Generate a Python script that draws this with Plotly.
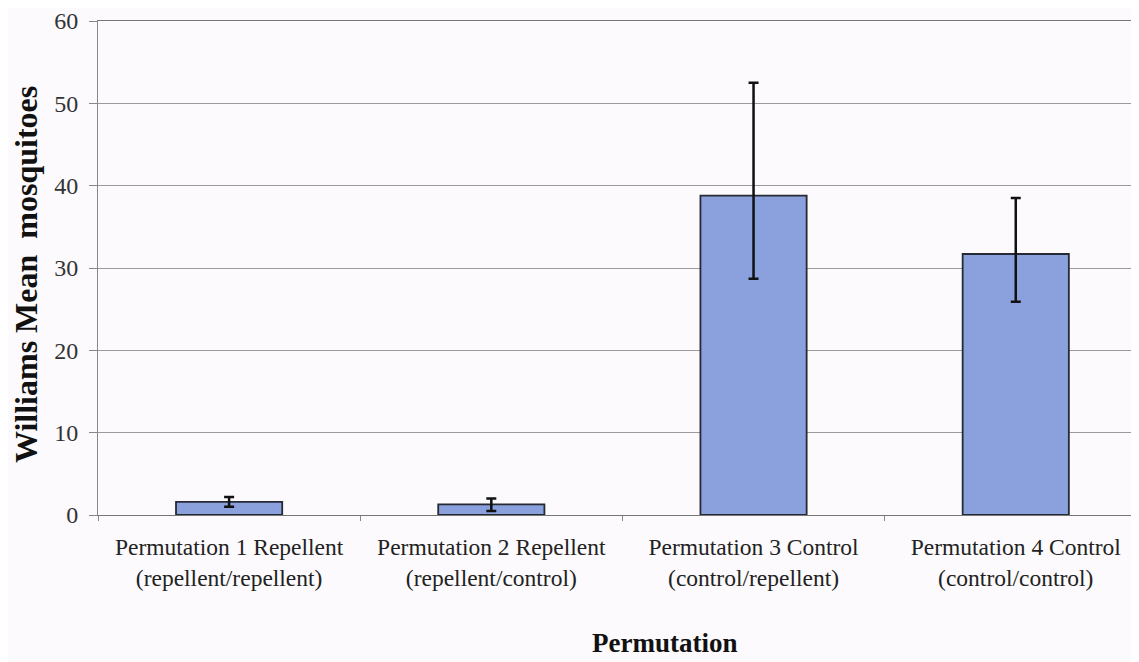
import plotly.graph_objects as go

categories = [
    "Permutation 1 Repellent<br>(repellent/repellent)",
    "Permutation 2 Repellent<br>(repellent/control)",
    "Permutation 3 Control<br>(control/repellent)",
    "Permutation 4 Control<br>(control/control)",
]
means = [1.6, 1.3, 38.8, 31.7]
err_plus = [0.6, 0.7, 13.7, 6.8]
err_minus = [0.6, 0.8, 10.1, 5.8]
y_ticks = [0, 10, 20, 30, 40, 50, 60]

serif = "Liberation Serif, Times New Roman, serif"

fig = go.Figure(
    go.Bar(
        x=categories,
        y=means,
        width=0.405,
        marker=dict(color="#8aa1dd", line=dict(color="#262a33", width=1.8)),
        error_y=dict(
            type="data",
            symmetric=False,
            array=err_plus,
            arrayminus=err_minus,
            color="#111111",
            thickness=2.5,
            width=5,
        ),
    )
)

fig.update_layout(
    width=1131,
    height=654,
    margin=dict(l=90, r=0, t=9, b=147),
    paper_bgcolor="#fcfafc",
    plot_bgcolor="#fcfafc",
    showlegend=False,
    font=dict(family=serif, color="#222222"),
)

fig.update_xaxes(
    range=[-0.5, 3.47],
    tickson="boundaries",
    ticks="outside",
    ticklen=5,
    tickcolor="#888888",
    showline=True,
    mirror=True,
    linecolor="#777777",
    linewidth=1,
    showgrid=False,
    ticklabelstandoff=11,
    tickfont=dict(family=serif, size=23.5, color="#222222"),
)

fig.update_yaxes(
    range=[0, 60],
    tickvals=y_ticks,
    ticks="outside",
    ticklen=8,
    tickcolor="#888888",
    showline=True,
    linecolor="#888888",
    linewidth=1,
    showgrid=True,
    gridcolor="#9a9a9a",
    gridwidth=1,
    zeroline=False,
    ticklabelstandoff=6,
    ticklabeloverflow="allow",
    tickfont=dict(family=serif, size=24, color="#333333"),
)

fig.add_annotation(
    text="<b>Williams Mean  mosquitoes</b>",
    xref="paper", yref="paper", x=0, y=0.5,
    xanchor="center", yanchor="middle",
    xshift=-72, yshift=-7,
    textangle=-90, showarrow=False,
    font=dict(family=serif, size=32, color="#111111"),
)
fig.add_annotation(
    text="<b>Permutation</b>",
    xref="paper", yref="paper", x=0.5, y=0,
    xanchor="center", yanchor="middle",
    xshift=46, yshift=-128,
    showarrow=False,
    font=dict(family=serif, size=27, color="#111111"),
)

fig.write_html("out.html")
